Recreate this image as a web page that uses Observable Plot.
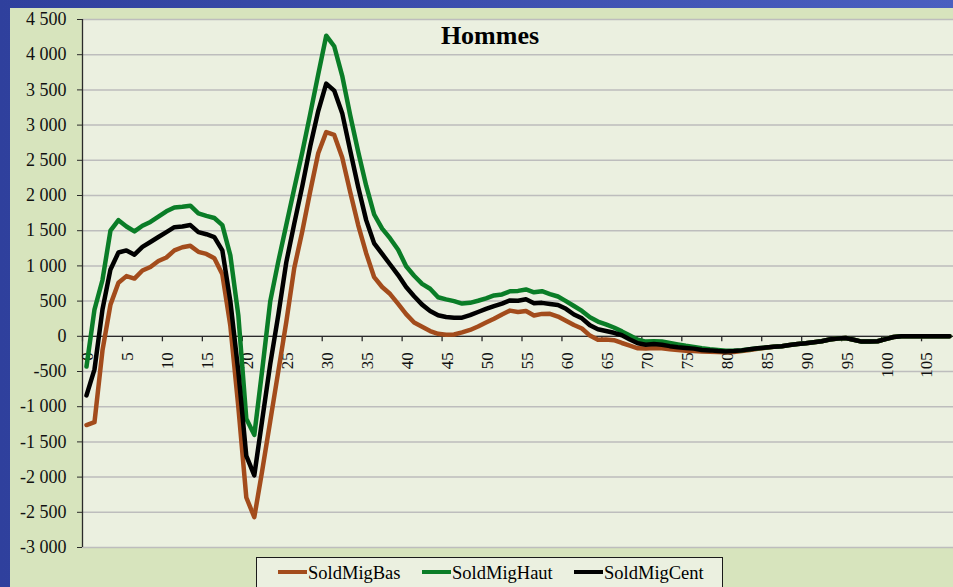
<!DOCTYPE html>
<html><head><meta charset="utf-8">
<script src="https://cdn.jsdelivr.net/npm/d3@7"></script>
<script src="https://cdn.jsdelivr.net/npm/@observablehq/plot@0.6"></script>
<style>
html,body{margin:0;padding:0;}
body{width:953px;height:587px;overflow:hidden;position:relative;background:linear-gradient(to right,#2f409d,#4a5fc0);font-family:"Liberation Serif","Times New Roman",serif;}
#panel{position:absolute;left:10px;top:8px;right:0;bottom:0;background:#d7e4bd;}
#chart{position:absolute;left:0;top:0;}
#title{position:absolute;left:390px;width:200px;top:23px;line-height:26px;text-align:center;font-weight:bold;font-size:26px;color:#000;}
#legend{position:absolute;left:256px;top:557px;width:465px;height:40px;border:1.5px solid #1a1a1a;background:#ebf0e0;}
.item{position:absolute;top:563px;height:20px;font-size:18.5px;line-height:20px;color:#000;white-space:nowrap;}
.sw{display:inline-block;width:29px;height:4px;vertical-align:middle;margin-right:1px;position:relative;top:-3px;}
</style></head>
<body>
<div id="panel"></div>
<div id="chart"></div>
<div id="title">Hommes</div>
<div id="legend"></div>
<div class="item" style="left:278px"><span class="sw" style="background:#a34c1c"></span>SoldMigBas</div>
<div class="item" style="left:422px"><span class="sw" style="background:#0a7d27"></span>SoldMigHaut</div>
<div class="item" style="left:574px"><span class="sw" style="background:#000"></span>SoldMigCent</div>
<script>
const ages = d3.range(0, 109);
const xTickLabels = [0,5,10,15,20,25,30,35,40,45,50,55,60,65,70,75,80,85,90,95,100,105];
const yTicks = [-3000,-2500,-2000,-1500,-1000,-500,0,500,1000,1500,2000,2500,3000,3500,4000,4500];

const soldMigBas = [
-1260,-1220,-200,450,760,855,820,935,985,1070,
1120,1220,1265,1285,1200,1170,1110,880,150,-1000,
-2290,-2570,-1900,-1200,-500,200,970,1490,2060,2600,
2900,2860,2540,2050,1580,1180,840,700,600,460,
315,195,135,75,35,22,25,55,90,140,
195,250,310,365,345,360,295,318,320,280,
220,160,110,10,-50,-45,-55,-95,-132,-170,
-175,-165,-170,-185,-195,-205,-210,-215,-218,-222,
-228,-222,-210,-195,-178,-163,-150,-140,-125,-110,
-100,-85,-70,-45,-30,-25,-50,-75,-75,-70,
-40,-10,0,0,0,0,0,0,0];

const soldMigHaut = [
-430,380,800,1500,1650,1560,1490,1570,1625,1700,
1775,1830,1840,1855,1745,1710,1680,1580,1150,300,
-1170,-1400,-470,500,1060,1580,2100,2610,3160,3720,
4270,4120,3700,3140,2620,2140,1730,1530,1390,1230,
995,860,745,675,555,525,500,465,475,505,
540,580,595,640,645,665,625,640,600,565,
500,430,360,270,210,170,125,70,10,-50,
-75,-70,-75,-95,-115,-135,-150,-170,-185,-195,
-205,-205,-198,-185,-170,-160,-150,-140,-125,-110,
-100,-85,-70,-45,-30,-25,-50,-75,-75,-70,
-40,-10,0,0,0,0,0,0,0];

const soldMigCent = [
-840,-470,380,950,1190,1220,1160,1270,1340,1410,
1480,1550,1560,1580,1480,1450,1410,1220,500,-500,
-1700,-1975,-1180,-390,300,1050,1600,2130,2700,3200,
3590,3490,3170,2640,2120,1650,1320,1170,1020,870,
700,570,450,360,300,275,265,265,300,345,
390,430,465,510,505,525,470,475,460,445,
390,310,255,156,100,75,50,15,-45,-100,
-120,-110,-120,-140,-155,-165,-175,-195,-200,-210,
-215,-210,-200,-185,-170,-160,-150,-140,-125,-110,
-100,-85,-70,-45,-30,-25,-50,-75,-75,-70,
-40,-10,0,0,0,0,0,0,0];

const fmt = v => (v < 0 ? "-" : "") + String(Math.abs(v)).replace(/\B(?=(\d{3})+(?!\d))/g, " ");
const tickPos = xTickLabels.map(a => a - 0.5);
const tickSymbol = {draw(ctx) { ctx.moveTo(0, 0); ctx.lineTo(0, 5); }};

const chart = Plot.plot({
  width: 953, height: 587,
  marginLeft: 82, marginRight: 0, marginTop: 19, marginBottom: 40,
  style: {background: "transparent", fontFamily: "'Liberation Serif', 'Times New Roman', serif", fontSize: "18px", color: "#111", overflow: "visible"},
  x: {domain: [-0.5, 108.5], axis: null},
  y: {domain: [-3000, 4500], axis: null},
  marks: [
    Plot.frame({fill: "#ebf0e0", stroke: "none"}),
    Plot.gridY(yTicks, {stroke: "#bdbdbd", strokeOpacity: 1, strokeWidth: 1.5}),
    Plot.ruleY([0], {stroke: "#2a2a2a", strokeWidth: 1.3}),
    Plot.ruleX([-0.5], {stroke: "#2a2a2a", strokeWidth: 1.3}),
    Plot.axisY(yTicks, {tickSize: 5, tickPadding: 11, tickFormat: fmt, fontSize: 18, stroke: "#2a2a2a"}),
    Plot.dot(tickPos, {x: d => d, y: () => 0, symbol: tickSymbol, r: 3, fill: "none", stroke: "#2a2a2a", strokeWidth: 1.3}),
    Plot.text(xTickLabels, {x: d => d, y: () => 0, text: d => String(d), rotate: -90, textAnchor: "end", lineAnchor: "middle", dy: 16, dx: 1.5, fontSize: 17, fill: "#111"}),
    Plot.line(soldMigBas, {x: (d, i) => ages[i], y: d => d, stroke: "#a34c1c", strokeWidth: 4.5, strokeLinejoin: "round"}),
    Plot.line(soldMigHaut, {x: (d, i) => ages[i], y: d => d, stroke: "#0a7d27", strokeWidth: 4.5, strokeLinejoin: "round"}),
    Plot.line(soldMigCent, {x: (d, i) => ages[i], y: d => d, stroke: "#000", strokeWidth: 4.5, strokeLinejoin: "round"})
  ]
});
document.getElementById("chart").appendChild(chart);
</script>
</body></html>
